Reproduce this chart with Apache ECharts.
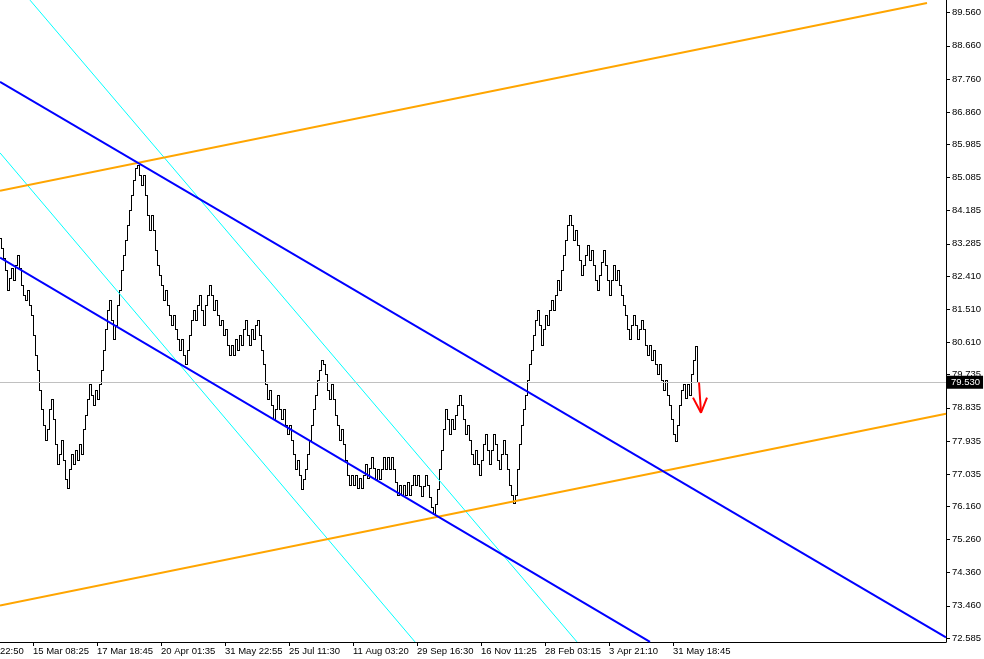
<!DOCTYPE html>
<html><head><meta charset="utf-8">
<script src="https://cdn.jsdelivr.net/npm/echarts@6/dist/echarts.min.js"></script>
<style>html,body{margin:0;padding:0;background:#fff}#c{width:984px;height:659px}</style>
</head><body><div id="c"></div>
<script>
// ---- data ----
const priceTicks = [89.560, 88.660, 87.760, 86.860, 85.985, 85.085, 84.185, 83.285, 82.410, 81.510,
  80.610, 79.735, 78.835, 77.935, 77.035, 76.160, 75.260, 74.360, 73.460, 72.585];
const timeLabels = ["22:50", "15 Mar 08:25", "17 Mar 18:45", "20 Apr 01:35", "31 May 22:55", "25 Jul 11:30",
  "11 Aug 03:20", "29 Sep 16:30", "16 Nov 11:25", "28 Feb 03:15", "3 Apr 21:10", "31 May 18:45"];
const timeLabelBars = [-0.5, 16, 48, 80, 112, 144, 176, 208, 240, 272, 304, 336];
const firstOpen = 83.45;
const closes = [
  83.18, 82.91, 82.58, 82.04, 82.37, 82.64, 82.31, 82.72, 82.99, 82.64, 82.18, 81.90, 81.77, 82.04, 81.63,
  81.36, 80.82, 80.28, 79.87, 79.33, 78.79, 78.38, 77.97, 78.25, 78.79, 79.06, 78.52, 77.84, 77.30, 77.57,
  77.97, 77.43, 76.89, 76.67, 77.16, 77.57, 77.30, 77.70, 77.43, 77.84, 77.57, 78.25, 78.65, 79.06, 79.47,
  79.19, 78.92, 79.33, 79.06, 79.47, 79.87, 80.41, 80.96, 81.50, 81.77, 81.23, 80.69, 81.09, 81.63, 82.04,
  82.58, 82.99, 83.40, 83.80, 84.21, 84.62, 85.02, 85.35, 85.43, 85.16, 84.89, 85.16, 84.62, 84.07, 83.67,
  84.07, 83.67, 83.13, 82.72, 82.45, 82.18, 81.77, 82.04, 81.63, 81.36, 81.09, 81.36, 80.96, 80.69, 80.41,
  80.69, 80.28, 80.01, 80.41, 80.82, 81.23, 81.50, 81.23, 81.63, 81.90, 81.50, 81.09, 81.63, 81.90, 82.18,
  81.90, 81.50, 81.77, 81.36, 81.09, 81.23, 80.82, 80.96, 80.55, 80.28, 80.55, 80.28, 80.69, 80.41, 80.82,
  80.55, 80.96, 81.23, 80.82, 80.55, 80.96, 80.69, 81.09, 81.23, 80.82, 80.41, 80.01, 79.47, 79.06, 79.33,
  78.92, 78.52, 78.79, 79.19, 78.79, 78.52, 78.79, 78.38, 78.11, 78.38, 77.97, 77.57, 77.16, 77.43, 77.02,
  76.62, 76.89, 77.16, 77.57, 77.97, 78.38, 78.79, 79.19, 79.60, 79.87, 80.14, 80.01, 79.74, 79.33, 79.06,
  79.47, 79.06, 78.65, 78.38, 77.97, 78.25, 77.84, 77.43, 77.02, 76.75, 77.02, 76.75, 77.02, 76.67, 76.94,
  76.67, 77.02, 77.30, 76.94, 77.21, 77.49, 77.21, 76.89, 77.16, 76.89, 77.16, 77.49, 77.16, 77.49, 77.16,
  77.49, 77.16, 76.83, 76.48, 76.75, 76.48, 76.75, 76.48, 76.81, 76.48, 76.75, 77.02, 76.75, 77.02, 76.70,
  76.43, 76.70, 77.02, 76.75, 76.40, 76.13, 75.94, 76.21, 76.62, 77.16, 77.70, 78.25, 78.79, 78.52, 78.11,
  78.52, 78.25, 78.65, 78.92, 79.19, 78.92, 78.52, 78.11, 78.38, 77.97, 77.57, 77.30, 77.70, 77.30, 77.02,
  77.43, 77.84, 78.11, 77.70, 77.30, 77.70, 78.11, 77.84, 77.43, 77.16, 77.57, 77.97, 77.57, 77.16, 76.75,
  76.48, 76.26, 76.48, 77.16, 77.84, 78.38, 78.79, 79.19, 79.60, 80.01, 80.41, 80.82, 81.23, 81.50, 81.09,
  80.55, 80.96, 81.36, 81.09, 81.50, 81.77, 81.50, 81.90, 82.31, 82.04, 82.58, 82.99, 83.40, 83.80, 84.07,
  83.80, 83.40, 83.67, 83.26, 82.85, 82.45, 82.72, 82.99, 83.26, 82.85, 83.13, 82.72, 82.31, 82.04, 82.45,
  82.80, 83.13, 82.72, 82.31, 81.90, 82.31, 82.72, 82.31, 82.58, 82.18, 81.90, 81.63, 81.36, 80.96, 80.69,
  81.09, 81.36, 81.09, 80.69, 80.96, 81.23, 80.96, 80.55, 80.28, 80.55, 80.14, 80.41, 80.01, 79.74, 80.01,
  79.60, 79.33, 79.60, 79.19, 78.92, 78.52, 78.11, 77.92, 78.38, 78.92, 79.33, 79.47, 79.11, 79.47, 79.19,
  79.74, 80.14, 80.50, 79.53
];
const currentPrice = 79.530;
// trendline endpoints: [bar index, price]
const orangeUpper = [[-0.5, 84.725], [463, 89.82]];
const orangeLower = [[-0.5, 73.47], [472.5, 78.67]];
const blueUpper = [[-0.5, 87.68], [472.5, 72.60]];
const blueLower = [[-0.5, 82.91], [324.5, 72.48]];
const cyanA = [[14.5, 89.90], [288, 72.48]];
const cyanB = [[-0.5, 85.755], [207, 72.48]];
const arrowShaft = [[349, 79.52], [350, 78.70]];
const arrowHead = [[346, 79.11], [350, 78.70], [353, 79.11]];

// ---- chart ----
const FONT = 'Liberation Sans';
const barData = closes.map((c, i) => [i, i === 0 ? firstOpen : closes[i - 1], c]);
const chart = echarts.init(document.getElementById('c'), null, {renderer: 'canvas'});

function lineSeries(data, color, width, z) {
  return {type: 'line', data: data, symbol: 'none', silent: true, z: z,
    lineStyle: {color: color, width: width}, clip: true};
}

chart.setOption({
  animation: false,
  backgroundColor: '#ffffff',
  grid: {left: 0, right: 38, top: 0, bottom: 17, containLabel: false, outerBoundsMode: 'none'},
  xAxis: {
    type: 'value', min: -0.5, max: 472.5, position: 'bottom',
    splitLine: {show: false},
    axisLine: {show: true, lineStyle: {color: '#000', width: 1}},
    axisTick: {show: true, length: 4, inside: false, lineStyle: {color: '#000'},
      customValues: timeLabelBars.slice(1)},
    axisLabel: {
      customValues: timeLabelBars, align: 'left', margin: 4,
      fontFamily: FONT, fontSize: 9.5, color: '#000',
      formatter: v => { const k = timeLabelBars.indexOf(v); return k >= 0 ? timeLabels[k] : ''; }
    }
  },
  yAxis: {
    type: 'value', position: 'right', min: 72.477, max: 89.904,
    splitLine: {show: false},
    axisLine: {show: true, onZero: false, lineStyle: {color: '#000', width: 1}},
    axisTick: {show: true, length: 4, lineStyle: {color: '#000'}, customValues: priceTicks},
    axisLabel: {customValues: priceTicks, margin: 6, fontFamily: FONT, fontSize: 9.5, color: '#000',
      formatter: v => v.toFixed(3)}
  },
  series: [
    {
      type: 'line', data: [], symbol: 'none', silent: true, z: 1,
      markLine: {
        silent: true, symbol: ['none', 'none'], animation: false,
        lineStyle: {color: '#c0c0c0', type: 'solid', width: 1},
        label: {show: true, position: 'end', distance: 1, formatter: currentPrice.toFixed(3),
          backgroundColor: '#000', color: '#fff', padding: [2, 3, 1, 4],
          fontFamily: FONT, fontSize: 9.5},
        data: [{yAxis: currentPrice}]
      }
    },
    {
      type: 'custom', z: 2, silent: true, clip: true,
      data: barData,
      encode: {x: 0, y: [1, 2]},
      renderItem: function (params, api) {
        const i = api.value(0), o = api.value(1), c = api.value(2);
        const po = api.coord([i, o]), pc = api.coord([i, c]);
        const cx = Math.floor(po[0]);
        const yo = Math.round(po[1]), yc = Math.round(pc[1]);
        const top = Math.min(yo, yc), bot = Math.max(yo, yc);
        const st = {fill: '#000'};
        return {type: 'group', children: [
          {type: 'rect', shape: {x: cx, y: top, width: 1, height: bot - top + 1}, style: st},
          {type: 'rect', shape: {x: cx - 1, y: yo, width: 1, height: 1}, style: st},
          {type: 'rect', shape: {x: cx + 1, y: yc, width: 1, height: 1}, style: st}
        ]};
      }
    },
    lineSeries(cyanA, '#00ffff', 1, 3),
    lineSeries(cyanB, '#00ffff', 1, 3),
    lineSeries(orangeUpper, '#ffa500', 2, 4),
    lineSeries(orangeLower, '#ffa500', 2, 4),
    lineSeries(blueUpper, '#0000ff', 2, 5),
    lineSeries(blueLower, '#0000ff', 2, 5),
    lineSeries(arrowShaft, '#ff0000', 2, 6),
    lineSeries(arrowHead, '#ff0000', 2, 6)
  ]
});
</script>
</body></html>
